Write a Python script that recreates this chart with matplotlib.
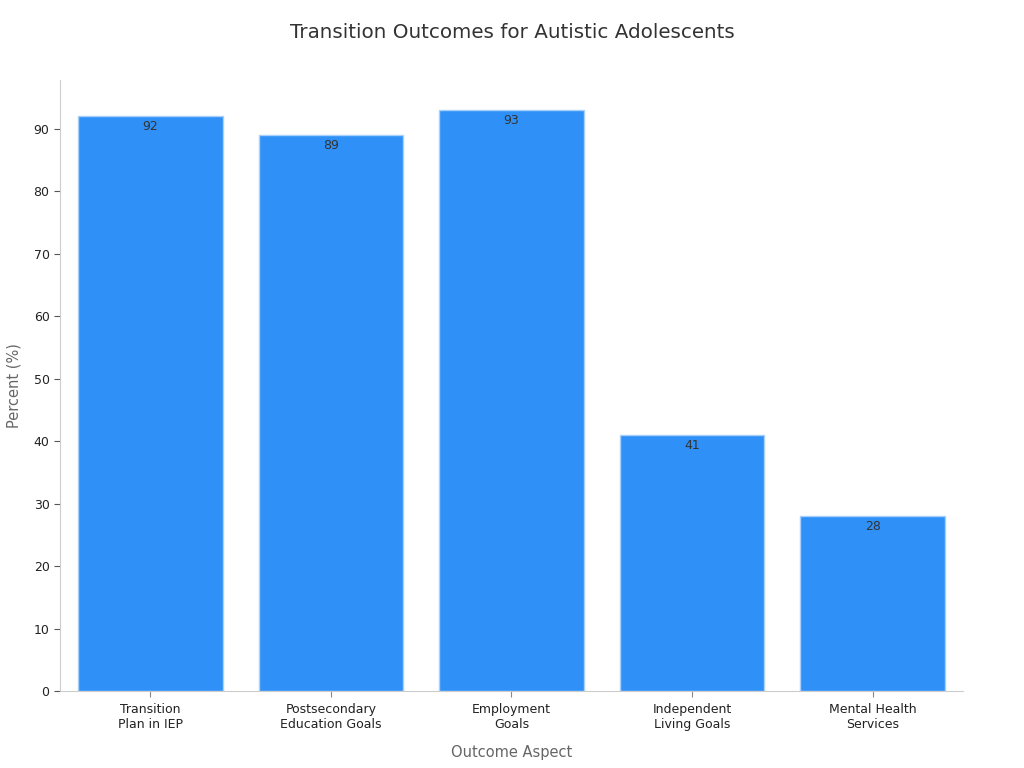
import matplotlib
matplotlib.use('Agg')
import matplotlib.pyplot as plt

categories = ['Transition\nPlan in IEP', 'Postsecondary\nEducation Goals', 'Employment\nGoals',
              'Independent\nLiving Goals', 'Mental Health\nServices']
values = [92, 89, 93, 41, 28]

fig = plt.figure(figsize=(10.24, 7.68), dpi=100)
ax = fig.add_axes([0.0586, 0.1003, 0.8818, 0.7955])

x = range(len(categories))
bars = ax.bar(x, values, width=0.8, color='#2f91f8', edgecolor='#a8d0fb', linewidth=1)

for b, v in zip(bars, values):
    ax.text(b.get_x() + b.get_width() / 2, v - 0.6, str(v), ha='center', va='top',
            fontsize=9, color='#333333')

ax.set_xlim(-0.5, 4.5)
ax.set_ylim(0, 97.8)
ax.set_yticks(range(0, 91, 10))
ax.set_xticks(list(x))
ax.set_xticklabels(categories, fontsize=9, color='#222222')
ax.tick_params(axis='y', labelsize=9, labelcolor='#222222', color='#555555', length=4)
ax.tick_params(axis='x', color='#888888', length=4, pad=4.5)

for s in ['top', 'right']:
    ax.spines[s].set_visible(False)
ax.spines['left'].set_color('#cccccc')
ax.spines['bottom'].set_color('#cccccc')

ax.set_xlabel('Outcome Aspect', fontsize=10.5, color='#666666', labelpad=10)
ax.set_ylabel('Percent (%)', fontsize=10.5, color='#666666', labelpad=9)
fig.suptitle('Transition Outcomes for Autistic Adolescents', fontsize=14.3, color='#333333', y=0.97)

fig.savefig('out.png', dpi=100)
